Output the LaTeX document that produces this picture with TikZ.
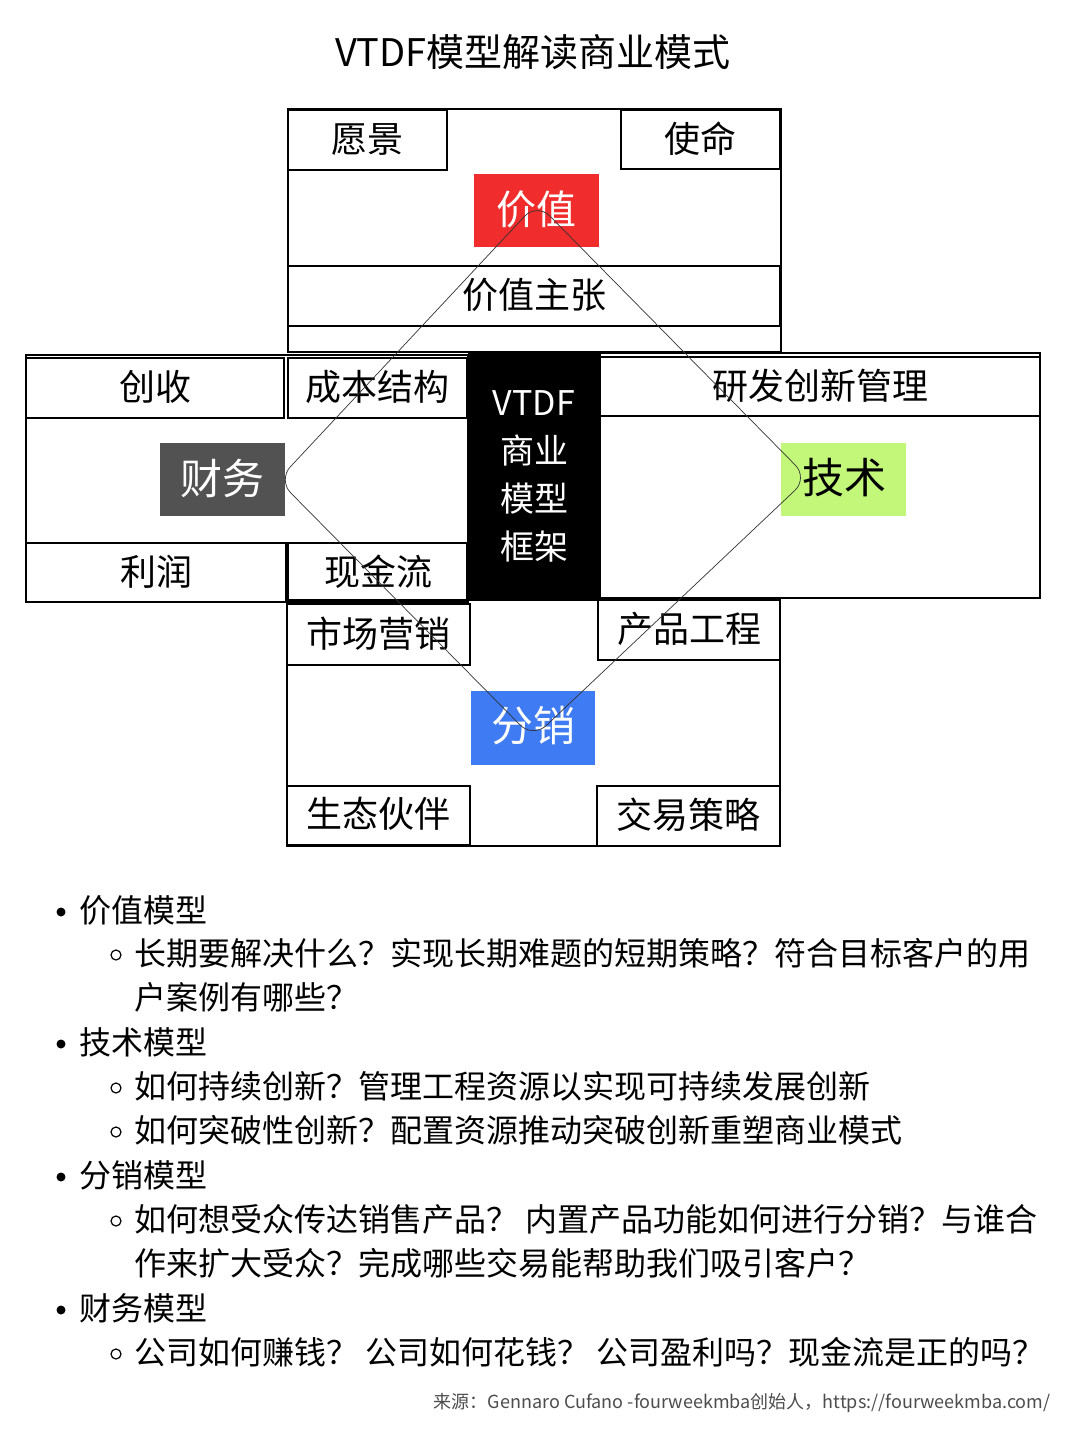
\documentclass[tikz,border=0pt]{standalone}
\usepackage{fontspec}
\setmainfont{Noto Sans CJK SC}
\definecolor{vred}{HTML}{F02C2C}
\definecolor{vblue}{HTML}{3F7BF3}
\definecolor{vgreen}{HTML}{C2F77A}
\begin{document}
\begin{tikzpicture}[x=1pt,y=-1pt,
  bx/.style={draw=black,line width=1.3pt},
  lbl/.style={font=\fontsize{36}{40}\selectfont},
  bl/.style={anchor=west,font=\fontsize{32}{36}\selectfont}]
\useasboundingbox (0,0) rectangle (1080,1440);
\node (title) at (533,52) {\fontsize{38}{42}\selectfont VTDF模型解读商业模式};
% outer blocks
\draw[bx] (288,109) rectangle (781,352);
\draw[bx] (26,355) rectangle (468,602);
\draw[bx] (600,353) rectangle (1040,598);
\draw[bx] (287,600) rectangle (780,846);
% top
\draw[bx] (288,110) rectangle (447,170); \node[lbl] (yj) at (367,140) {愿景};
\draw[bx] (621,110) rectangle (780,169); \node[lbl] (sm) at (700,139) {使命};
\fill[vred] (474,174) rectangle (599,247); \node[lbl,white,font=\fontsize{40}{42}\selectfont] (jz) at (536,209) {价值};
\draw[bx] (288,266) rectangle (780,326); \node[lbl] (jzzz) at (534,295) {价值主张};
% left
\draw[bx] (26,358) rectangle (284,418); \node[lbl] (cs) at (155,387) {创收};
\draw[bx] (288,358) rectangle (467,418); \node[lbl] (cb) at (377,387) {成本结构};
\fill[black!68] (160,443) rectangle (285,516); \node[lbl,white,font=\fontsize{42}{44}\selectfont] (cw) at (222,478) {财务};
\draw[bx] (26,543) rectangle (286,602); \node[lbl] (lr) at (156,572) {利润};
\draw[bx] (288,543) rectangle (467,602); \node[lbl] (xj) at (378,572) {现金流};
% center
\fill[black] (468,352) rectangle (600,600);
\node[white,align=center,font=\fontsize{34}{48}\selectfont] (ctr) at (534,476) {VTDF\\商业\\模型\\框架};
% right
\draw[bx] (600,357) rectangle (1040,416); \node[lbl] (yf) at (820,386) {研发创新管理};
\fill[vgreen] (781,443) rectangle (906,516); \node[lbl,font=\fontsize{42}{44}\selectfont] (js) at (844,478) {技术};
% bottom
\draw[bx] (287,604) rectangle (470,665); \node[lbl] (sc) at (378,634) {市场营销};
\draw[bx] (598,600) rectangle (780,660); \node[lbl] (cp) at (689,629) {产品工程};
\fill[vblue] (471,691) rectangle (595,765); \node[lbl,white,font=\fontsize{42}{44}\selectfont] (fx) at (533,726) {分销};
\draw[bx] (287,786) rectangle (470,845); \node[lbl] (st) at (378,814) {生态伙伴};
\draw[bx] (597,786) rectangle (780,846); \node[lbl] (jy) at (688,815) {交易策略};
% diamond
\draw[black!80,line width=0.7pt,rounded corners=18pt] (537,203) -- (808,478) -- (533,738) -- (278,480) -- cycle;
% bullets
\foreach \y/\t in {910/价值模型,1042/技术模型,1175/分销模型,1308/财务模型}{
  \fill (61,\y+2) circle (4.5pt);
  \node[bl] at (76,\y) {\t};}
\foreach \y in {953,1086,1130,1219,1352}{ \draw[line width=1.2pt] (116,\y+2) circle (5pt);}
\node[bl] (b1) at (131,953) {长期要解决什么？实现长期难题的短期策略？符合目标客户的用};
\node[bl] (b1b) at (131,997) {户案例有哪些？};
\node[bl] (b2) at (131,1086) {如何持续创新？管理工程资源以实现可持续发展创新};
\node[bl] (b3) at (131,1130) {如何突破性创新？配置资源推动突破创新重塑商业模式};
\node[bl] (b4) at (131,1219) {如何想受众传达销售产品？ 内置产品功能如何进行分销？与谁合};
\node[bl] (b4b) at (131,1263) {作来扩大受众？完成哪些交易能帮助我们吸引客户？};
\node[bl] (b5) at (131,1352) {公司如何赚钱？ 公司如何花钱？ 公司盈利吗？现金流是正的吗？};
\node[anchor=east,black!70,font=\fontsize{18}{20}\selectfont] (src) at (1054,1403) {来源：Gennaro Cufano -fourweekmba创始人，https://fourweekmba.com/};
\end{tikzpicture}
\end{document}
